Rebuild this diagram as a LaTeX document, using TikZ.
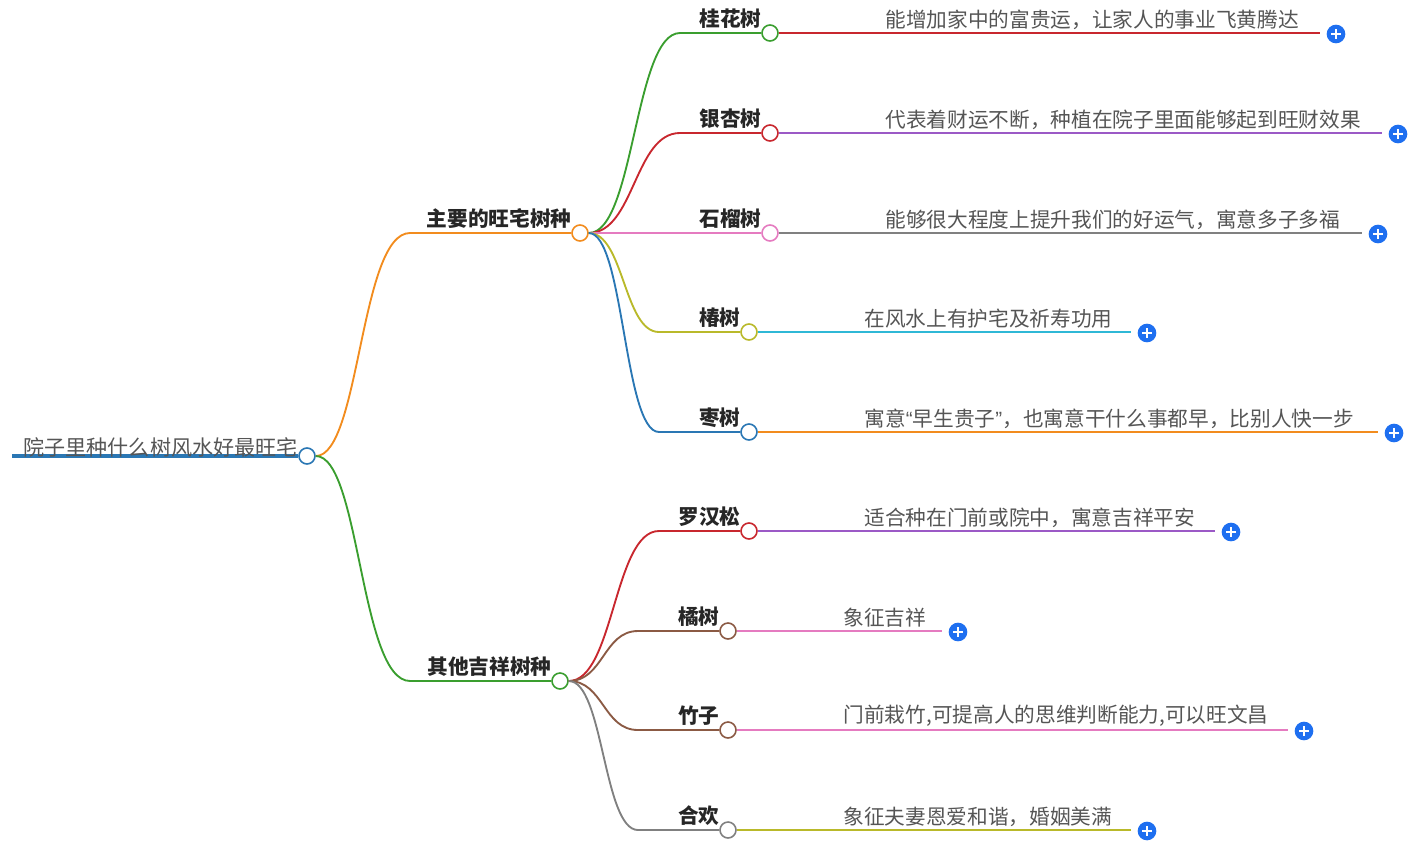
\documentclass[tikz,border=0pt]{standalone}
\usepackage{fontspec}
\setmainfont{Noto Sans CJK SC}
\newfontfamily\latq{Liberation Sans}
\usetikzlibrary{calc}
\definecolor{cg}{HTML}{3A9E2F}\definecolor{cr}{HTML}{C8272E}\definecolor{cp}{HTML}{E57BC0}
\definecolor{co}{HTML}{B9B92A}\definecolor{cb}{HTML}{2A77B4}\definecolor{cor}{HTML}{F28C1E}
\definecolor{cpu}{HTML}{9B59C6}\definecolor{cgr}{HTML}{808080}\definecolor{cc}{HTML}{2FB8D6}
\definecolor{cbr}{HTML}{8B5A44}\definecolor{cpl}{HTML}{1E6FF0}\definecolor{tx}{HTML}{555555}
\tikzset{dot/.style={circle,fill=white,line width=1.2pt,minimum size=12pt,inner sep=0pt},
 lw/.style={line width=1.4pt},
 lbl/.style={font=\fontsize{15.5pt}{16pt}\selectfont\bfseries,text=black!85,inner sep=1pt},
 lf/.style={font=\fontsize{15.5pt}{16pt}\selectfont,text=tx,inner sep=1pt},
 plusb/.style={circle,fill=cpl,minimum size=14pt,inner sep=0pt}}
\newcommand\child[9]{%
 \node[dot,draw=#3] (#1) at (#5,#4) {};
 \coordinate (#1k) at (#5-90,#4);
 \coordinate (#1m) at ($(#2.east)!0.5!(#1k)$);
 \draw[#3,lw] (#2.east) .. controls (#1m |- #2) and (#1m |- #1k) .. (#1k) -- (#1.west);
 \node[lbl,anchor=south east] (#1t) at ($(#1.west)+(2,-3)$) {#6};
 \coordinate (#1e) at (#8,#4);
 \draw[#7,lw] (#1.east) -- (#1e);
 \node[lf,anchor=south west] (#1l) at (#5+114,#4-2) {#9};
 \node[plusb] (#1p) at (#8+16,#4+1) {};
 \draw[white,line width=1.5pt] ($(#1p)+(-5,0)$) -- ($(#1p)+(5,0)$) ($(#1p)+(0,-5)$) -- ($(#1p)+(0,5)$);
}
\begin{document}
\begin{tikzpicture}[x=0.75pt,y=-0.75pt]
\useasboundingbox (0,0) rectangle (1424,847);
\coordinate (rs) at (12,456);
\node[dot,draw=cb] (root) at (307,456) {};
\draw[cb,line width=3.5pt] (rs) -- (root.west);
\node[lf,anchor=south west,font=\fontsize{15.8pt}{16pt}\selectfont] (roott) at (22,459) {院子里种什么树风水好最旺宅};
% branch 1
\node[dot,draw=cor] (b1) at (580,233) {};
\coordinate (b1k) at (410,233);
\draw[cor,lw] (root.east) .. controls (360,456) and (360,233) .. (b1k) -- (b1.west);
\node[lbl,anchor=south east] (b1t) at ($(b1.west)+(2,-3)$) {主要的旺宅树种};
% branch 2
\node[dot,draw=cg] (b2) at (560,681) {};
\coordinate (b2k) at (410,681);
\draw[cg,lw] (root.east) .. controls (360,456) and (360,681) .. (b2k) -- (b2.west);
\node[lbl,anchor=south east] (b2t) at ($(b2.west)+(2,-3)$) {其他吉祥树种};
\child{c1}{b1}{cg}{33}{770}{桂花树}{cr}{1320}{能增加家中的富贵运，让家人的事业飞黄腾达}
\child{c2}{b1}{cr}{133}{770}{银杏树}{cpu}{1382}{代表着财运不断，种植在院子里面能够起到旺财效果}
\child{c3}{b1}{cp}{233}{770}{石榴树}{cgr}{1362}{能够很大程度上提升我们的好运气，寓意多子多福}
\child{c4}{b1}{co}{332}{749}{椿树}{cc}{1131}{在风水上有护宅及祈寿功用}
\child{c5}{b1}{cb}{432}{749}{枣树}{cor}{1378}{寓意{\latq“}早生贵子{\latq”}，也寓意干什么事都早，比别人快一步}
\child{d1}{b2}{cr}{531}{749}{罗汉松}{cpu}{1215}{适合种在门前或院中，寓意吉祥平安}
\child{d2}{b2}{cbr}{631}{728}{橘树}{cp}{942}{象征吉祥}
\child{d3}{b2}{cbr}{730}{728}{竹子}{cp}{1288}{门前栽竹,可提高人的思维判断能力,可以旺文昌}
\child{d4}{b2}{cgr}{830}{728}{合欢}{co}{1131}{象征夫妻恩爱和谐，婚姻美满}
\end{tikzpicture}
\end{document}
